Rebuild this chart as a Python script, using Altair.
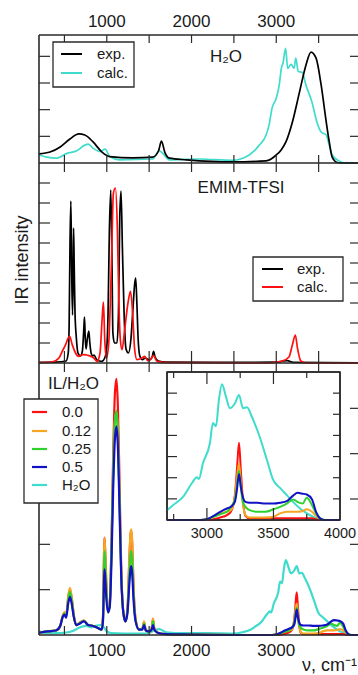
import altair as alt
import pandas as pd

# ---------------- data ----------------
# Panel 1: H2O, experiment vs calculation
h2o_exp_nu = [200, 330, 450, 565, 670, 740, 835, 940, 1035, 1305, 1540, 1610, 1645, 1685, 1740, 1940, 2480, 2880, 3000, 3060,
              3115, 3190, 3270, 3350, 3410, 3470, 3530, 3590, 3625, 3660, 3720, 3800, 4000]
h2o_exp_val = [0.34, 0.41, 0.6, 0.9, 1.09, 1.05, 0.8, 0.42, 0.24, 0.19, 0.22, 0.45, 0.82, 0.4, 0.18, 0.12, 0.04, 0.08, 0.3, 0.5,
               0.8, 1.53, 2.6, 3.67, 4.16, 3.93, 2.92, 1.53, 0.8, 0.22, 0.02, 0.0, 0.0]

h2o_calc_nu = [200, 290, 410, 530, 645, 740, 780, 840, 920, 980, 1035, 1150, 1540, 1620, 1660, 1740, 2090, 2480, 2680, 2800,
               2880, 2915, 2950, 3000, 3035, 3060, 3080, 3110, 3135, 3175, 3210, 3230, 3260, 3305, 3350, 3420, 3480, 3530,
               3590, 3625, 3660, 3740, 3820, 4000]
h2o_calc_val = [0.3, 0.22, 0.18, 0.36, 0.46, 0.67, 0.71, 0.55, 0.43, 0.52, 0.24, 0.12, 0.15, 0.46, 0.36, 0.12, 0.15, 0.1, 0.3, 0.67,
                1.05, 1.42, 2.05, 2.43, 2.92, 3.55, 3.75, 4.3, 3.55, 3.7, 3.55, 3.93, 3.43, 3.4, 2.92, 2.3, 1.53, 1.16,
                1.05, 0.67, 0.3, 0.08, 0.0, 0.0]

# Panel 2: EMIM-TFSI, experiment vs calculation
il_exp_nu = [200, 400, 520, 545, 556, 566, 576, 586, 596, 603, 608, 615, 625, 640, 660, 690, 712, 730, 737, 745,
             755, 770, 788, 800, 815, 835, 850, 880, 940, 980, 1000, 1015, 1030, 1047, 1060, 1072, 1090, 1120, 1138, 1153,
             1168, 1184, 1204, 1227, 1255, 1285, 1310, 1330, 1341, 1355, 1370, 1390, 1420, 1455, 1500, 1535, 1552, 1570, 1610, 1700,
             2500, 3000, 3080, 3130, 3200, 4000]
il_exp_val = [0.03, 0.04, 0.1, 0.5, 2.0, 6.0, 8.1, 4.5, 2.4, 4.5, 6.75, 5.0, 2.5, 1.3, 0.5, 0.35, 0.6, 1.8, 2.3, 1.3,
              0.7, 1.2, 1.6, 1.0, 0.5, 0.35, 0.4, 0.17, 0.08, 0.3, 0.8, 2.5, 6.5, 8.65, 5.5, 1.5, 1.0, 1.0, 2.5, 7.3,
              8.6, 5.8, 2.5, 0.7, 0.5, 1.2, 2.8, 4.0, 4.25, 3.0, 1.2, 0.35, 0.17, 0.25, 0.15, 0.3, 0.58, 0.3, 0.1, 0.05,
              0.03, 0.04, 0.1, 0.12, 0.03, 0.0]

il_calc_nu = [200, 350, 435, 474, 514, 545, 561, 592, 631, 670, 700, 729, 760, 788, 847, 886, 920, 945, 960, 976,
              996, 1023, 1055, 1078, 1102, 1125, 1141, 1160, 1180, 1211, 1250, 1280, 1305, 1329, 1356, 1415, 1447, 1486, 1520, 1552,
              1592, 1700, 2900, 3000, 3070, 3150, 3190, 3225, 3250, 3290, 3350, 4000]
il_calc_val = [0.02, 0.05, 0.25, 0.58, 0.92, 1.25, 1.33, 0.92, 0.5, 0.33, 0.4, 0.42, 0.4, 0.37, 0.25, 0.08, 0.5, 2.2, 3.05, 1.17,
               0.25, 1.0, 5.0, 8.5, 8.75, 6.67, 3.33, 1.17, 0.67, 1.67, 3.0, 3.58, 2.5, 0.67, 0.17, 0.25, 0.33, 0.1, 0.2, 0.37,
               0.08, 0.02, 0.0, 0.05, 0.1, 0.3, 0.9, 1.4, 0.75, 0.1, 0.0, 0.0]

# Panel 3 + inset: IL/H2O mixtures
mix_nu = [200, 300, 400, 450, 480, 500, 520, 545, 565, 585,
          610, 640, 680, 730, 780, 840, 900, 940, 955, 965,
          972, 980, 995, 1015, 1035, 1055, 1075, 1095, 1114, 1130,
          1150, 1170, 1195, 1220, 1245, 1265, 1280, 1290, 1300, 1315,
          1340, 1380, 1420, 1440, 1460, 1500, 1530, 1545, 1560, 1600,
          1700, 2000, 2500, 2700, 2800, 2900, 2950, 3000, 3050, 3100,
          3150, 3180, 3210, 3225, 3241, 3255, 3270, 3290, 3320, 3380,
          3440, 3500, 3550, 3600, 3650, 3680, 3720, 3750, 3790, 3820,
          3850, 3880, 3950, 4000]
mix_00 = [0.05, 0.08, 0.10, 0.20, 0.42, 0.50, 0.42, 0.82, 1.00, 0.82,
          0.45, 0.22, 0.27, 0.32, 0.22, 0.20, 0.15, 0.12, 0.40, 1.50,
          2.15, 1.90, 1.10, 0.50, 0.70, 2.00, 3.90, 5.30, 5.65, 5.10,
          3.40, 1.50, 0.50, 0.30, 0.60, 1.60, 2.20, 2.30, 2.00, 1.10,
          0.35, 0.12, 0.14, 0.28, 0.10, 0.08, 0.15, 0.35, 0.15, 0.05,
          0.02, 0.01, 0.00, 0.00, 0.00, 0.00, 0.00, 0.00, 0.01, 0.03,
          0.06, 0.10, 0.30, 0.60, 0.94, 0.60, 0.25, 0.05, 0.02, 0.02,
          0.02, 0.02, 0.02, 0.02, 0.02, 0.02, 0.02, 0.02, 0.02, 0.01,
          0.00, 0.00, 0.00, 0.00]
mix_012 = [0.05, 0.08, 0.10, 0.20, 0.42, 0.50, 0.42, 0.85, 1.04, 0.85,
           0.45, 0.22, 0.27, 0.32, 0.22, 0.20, 0.15, 0.12, 0.40, 1.50,
           2.14, 1.90, 1.10, 0.50, 0.70, 1.90, 3.60, 4.70, 4.92, 4.50,
           3.00, 1.40, 0.50, 0.30, 0.60, 1.60, 2.25, 2.33, 2.05, 1.10,
           0.35, 0.12, 0.15, 0.30, 0.10, 0.08, 0.15, 0.37, 0.15, 0.05,
           0.02, 0.01, 0.00, 0.00, 0.00, 0.00, 0.00, 0.01, 0.04, 0.08,
           0.10, 0.12, 0.28, 0.50, 0.69, 0.45, 0.20, 0.06, 0.03, 0.03,
           0.03, 0.04, 0.08, 0.10, 0.10, 0.10, 0.11, 0.13, 0.10, 0.05,
           0.01, 0.00, 0.00, 0.00]
mix_025 = [0.05, 0.08, 0.10, 0.20, 0.40, 0.47, 0.40, 0.78, 0.95, 0.78,
           0.42, 0.22, 0.26, 0.31, 0.22, 0.20, 0.15, 0.12, 0.35, 1.30,
           1.85, 1.65, 0.95, 0.50, 0.65, 1.90, 3.60, 4.70, 4.95, 4.50,
           3.00, 1.40, 0.50, 0.30, 0.55, 1.30, 1.78, 1.85, 1.65, 0.95,
           0.32, 0.12, 0.13, 0.25, 0.10, 0.08, 0.13, 0.30, 0.13, 0.05,
           0.02, 0.01, 0.00, 0.00, 0.00, 0.00, 0.00, 0.01, 0.04, 0.07,
           0.10, 0.16, 0.25, 0.42, 0.60, 0.40, 0.22, 0.16, 0.12, 0.10,
           0.10, 0.13, 0.16, 0.20, 0.25, 0.22, 0.20, 0.27, 0.18, 0.08,
           0.02, 0.00, 0.00, 0.00]
mix_05 = [0.05, 0.08, 0.10, 0.20, 0.40, 0.45, 0.38, 0.70, 0.84, 0.70,
          0.40, 0.22, 0.25, 0.30, 0.22, 0.20, 0.15, 0.12, 0.30, 1.00,
          1.45, 1.30, 0.80, 0.50, 0.62, 1.60, 3.20, 4.30, 4.60, 4.20,
          2.80, 1.30, 0.50, 0.30, 0.50, 1.10, 1.45, 1.52, 1.35, 0.80,
          0.30, 0.12, 0.12, 0.22, 0.10, 0.08, 0.12, 0.22, 0.12, 0.05,
          0.02, 0.01, 0.00, 0.00, 0.00, 0.00, 0.00, 0.01, 0.05, 0.10,
          0.14, 0.16, 0.22, 0.36, 0.56, 0.40, 0.28, 0.22, 0.21, 0.21,
          0.20, 0.20, 0.21, 0.23, 0.30, 0.33, 0.32, 0.31, 0.25, 0.10,
          0.02, 0.00, 0.00, 0.00]
water_nu = [200, 300, 400, 500, 600, 650, 700, 760, 820, 880,
            930, 970, 1000, 1050, 1200, 1400, 1500, 1560, 1620, 1700,
            1900, 2200, 2500, 2600, 2700, 2745, 2820, 2888, 2925, 2940,
            2970, 3023, 3045, 3068, 3090, 3113, 3143, 3173, 3211, 3241,
            3271, 3301, 3339, 3399, 3451, 3497, 3549, 3602, 3647, 3700,
            3752, 3797, 3850, 3900, 4000]
water_val = [0.08, 0.04, 0.04, 0.05, 0.09, 0.14, 0.18, 0.20, 0.17, 0.21,
             0.22, 0.16, 0.08, 0.04, 0.03, 0.03, 0.05, 0.10, 0.13, 0.06,
             0.04, 0.04, 0.03, 0.06, 0.12, 0.18, 0.28, 0.45, 0.52, 0.50,
             0.69, 0.94, 1.18, 1.14, 1.46, 1.65, 1.50, 1.36, 1.42, 1.52,
             1.36, 1.37, 1.25, 1.00, 0.73, 0.49, 0.39, 0.30, 0.22, 0.14,
             0.08, 0.04, 0.01, 0.00, 0.00]

mix_labels = ["0.0", "0.12", "0.25", "0.5", "H\u2082O"]

main_ticks = [500, 1000, 1500, 2000, 2500, 3000, 3500]
main_labels = [1000, 2000, 3000]
inset_major = [3000, 3500]
inset_minor = [2750, 3250, 3750]
inset_labels = [3000, 3500, 4000]

# ---------------- styling ----------------
FONT = "Liberation Sans"
TXT = "#1a1a1a"
FRAME = "#2a2a2a"
C_BLACK = "#000000"
C_CYAN = "#3fdccd"
C_RED = "#ff1010"
C_ORANGE = "#f5a623"
C_GREEN = "#2fd12f"
C_BLUE = "#1212c4"
ONE = alt.Data(values=[{"k": 0}])

XM = alt.Scale(domain=[200, 4000], range=[0, 322], nice=False, zero=False)
Y1 = alt.Scale(domain=[0, 4.8], range=[128, 0], nice=False, zero=False)
Y2 = alt.Scale(domain=[0, 10], range=[328, 128], nice=False, zero=False)
Y3 = alt.Scale(domain=[0, 6], range=[600, 328], nice=False, zero=False)
XI = alt.Scale(domain=[2700, 4000], range=[128, 301], nice=False, zero=False)
YI = alt.Scale(domain=[0, 1.8], range=[485, 337], nice=False, zero=False)


def spectrum(nu, val, color, xs, ys, width, nu_min=None):
    df = pd.DataFrame({"nu": nu, "v": val})
    if nu_min is not None:
        df = df[df["nu"] >= nu_min]
    return alt.Chart(df).mark_line(color=color, strokeWidth=width, interpolate="monotone").encode(
        x=alt.X("nu:Q", scale=xs, axis=None),
        y=alt.Y("v:Q", scale=ys, axis=None))


def hrule(y, x1, x2, w=1.6, color=FRAME):
    return alt.Chart(ONE).mark_rule(color=color, strokeWidth=w).encode(
        x=alt.value(x1), x2=alt.value(x2), y=alt.value(y))


def vrule(x, y1, y2, w=1.6, color=FRAME):
    return alt.Chart(ONE).mark_rule(color=color, strokeWidth=w).encode(
        x=alt.value(x), y=alt.value(y1), y2=alt.value(y2))


def xticks(vals, xs, y1, y2, w=1.2):
    return alt.Chart(pd.DataFrame({"t": vals})).mark_rule(color=FRAME, strokeWidth=w).encode(
        x=alt.X("t:Q", scale=xs, axis=None), y=alt.value(y1), y2=alt.value(y2))


def yticks(vals, ys, x1, x2, w=1.2):
    return alt.Chart(pd.DataFrame({"t": vals})).mark_rule(color=FRAME, strokeWidth=w).encode(
        y=alt.Y("t:Q", scale=ys, axis=None), x=alt.value(x1), x2=alt.value(x2))


def xlabels(vals, xs, y, size):
    return alt.Chart(pd.DataFrame({"t": vals})).mark_text(
        font=FONT, fontSize=size, color=TXT, align="center", baseline="middle").encode(
        x=alt.X("t:Q", scale=xs, axis=None), y=alt.value(y), text=alt.Text("t:Q", format="d"))


def label(s, x, y, size, align="left", angle=0):
    kw = dict(text=s, font=FONT, fontSize=size, color=TXT, align=align, baseline="middle")
    if angle:
        kw["angle"] = angle
    return alt.Chart(ONE).mark_text(**kw).encode(x=alt.value(x), y=alt.value(y))


def box(x1, y1, x2, y2, w=1.3):
    return alt.Chart(ONE).mark_rect(fill="white", stroke=FRAME, strokeWidth=w).encode(
        x=alt.value(x1), x2=alt.value(x2), y=alt.value(y1), y2=alt.value(y2))


layers = []

# ---- panel 1 ----
layers += [
    spectrum(h2o_calc_nu, h2o_calc_val, C_CYAN, XM, Y1, 1.7),
    spectrum(h2o_exp_nu, h2o_exp_val, C_BLACK, XM, Y1, 1.7),
]
# ---- panel 2 ----
layers += [
    spectrum(il_exp_nu, il_exp_val, C_BLACK, XM, Y2, 1.7),
    spectrum(il_calc_nu, il_calc_val, C_RED, XM, Y2, 1.7),
]
# ---- panel 3 ----
mix_series = [(mix_00, C_RED), (mix_012, C_ORANGE), (mix_025, C_GREEN), (mix_05, C_BLUE)]
layers.append(spectrum(water_nu, water_val, C_CYAN, XM, Y3, 2.2))
for vals, col in mix_series:
    layers.append(spectrum(mix_nu, vals, col, XM, Y3, 2.2))

# ---- frames and ticks of main panels ----
panels = [(0, 128, Y1, [1, 2, 3, 4], 8, 8),
          (128, 328, Y2, [1, 2, 3, 4, 5, 6, 7, 8, 9], 9, 12),
          (328, 600, Y3, [1, 2, 3, 4, 5], 9, 9)]
for top, bot, ys, yt, tt, tb in panels:
    layers += [
        xticks(main_ticks, XM, top, top + tt),
        xticks(main_ticks, XM, bot, bot - tb),
        yticks(yt, ys, 0, 11),
        yticks(yt, ys, 311, 322),
    ]
for y in [0, 128, 328, 600]:
    layers.append(hrule(y, 0, 322))
layers += [vrule(0, 0, 600), vrule(322, 0, 600)]

# ---- axis texts ----
layers += [
    xlabels(main_labels, XM, -13, 17),
    xlabels(main_labels, XM, 616, 17),
    label("\u03bd, cm\u207b\u00b9", 318, 631, 18, align="right"),
    label("IR intensity", -16, 225, 18, align="center", angle=270),
    label("H\u2082O", 187, 22, 17, align="center"),
    label("EMIM-TFSI", 202, 153, 17, align="center"),
]

# ---- inset ----
layers.append(box(128, 337, 301, 485, w=1.5))
layers.append(spectrum(water_nu, water_val, C_CYAN, XI, YI, 2.0, nu_min=2700))
for vals, col in mix_series:
    layers.append(spectrum(mix_nu, vals, col, XI, YI, 2.0, nu_min=2700))
inset_yt = [k * 1.8 / 7 for k in range(1, 7)]
layers += [
    xticks(inset_major, XI, 485, 473),
    xticks(inset_minor, XI, 485, 479),
    xticks(inset_major, XI, 337, 349),
    xticks(inset_minor, XI, 337, 343),
    yticks(inset_yt, YI, 128, 138),
    yticks(inset_yt, YI, 294, 301),
    hrule(337, 128, 301, w=1.5), hrule(485, 128, 301, w=1.5),
    vrule(128, 337, 485, w=1.5), vrule(301, 337, 485, w=1.5),
    xlabels(inset_labels, XI, 499, 14.5),
]

# ---- legends ----
# panel 1
layers += [
    box(14, 7, 95, 52),
    hrule(19, 22, 43, w=2, color=C_BLACK), label("exp.", 58, 19, 15),
    hrule(38, 22, 43, w=2, color=C_CYAN), label("calc.", 58, 38, 15),
]
# panel 2
layers += [
    box(214, 222, 304, 266),
    hrule(234, 223, 244, w=2, color=C_BLACK), label("exp.", 258, 234, 15),
    hrule(252, 223, 244, w=2, color=C_RED), label("calc.", 258, 252, 15),
]
# panel 3
legend_cols = [C_RED, C_ORANGE, C_GREEN, C_BLUE, C_CYAN]
legend_ys = [377, 396, 414, 432, 450]
layers += [box(-15, 364, 59, 468), label("IL/H\u2082O", 9, 349, 17)]
for name, col, yy in zip(mix_labels, legend_cols, legend_ys):
    layers += [hrule(yy, -7, 8, w=2.2, color=col), label(name, 23, yy, 15)]

chart = alt.layer(*layers).resolve_scale(x="independent", y="independent").properties(
    width=319, height=640,
    padding={"left": 39, "top": 35, "right": 0, "bottom": 0},
    autosize=alt.AutoSizeParams(type="none"),
).configure_view(strokeWidth=0)

chart.save("out.html", embed_options={"renderer": "svg", "actions": False})
